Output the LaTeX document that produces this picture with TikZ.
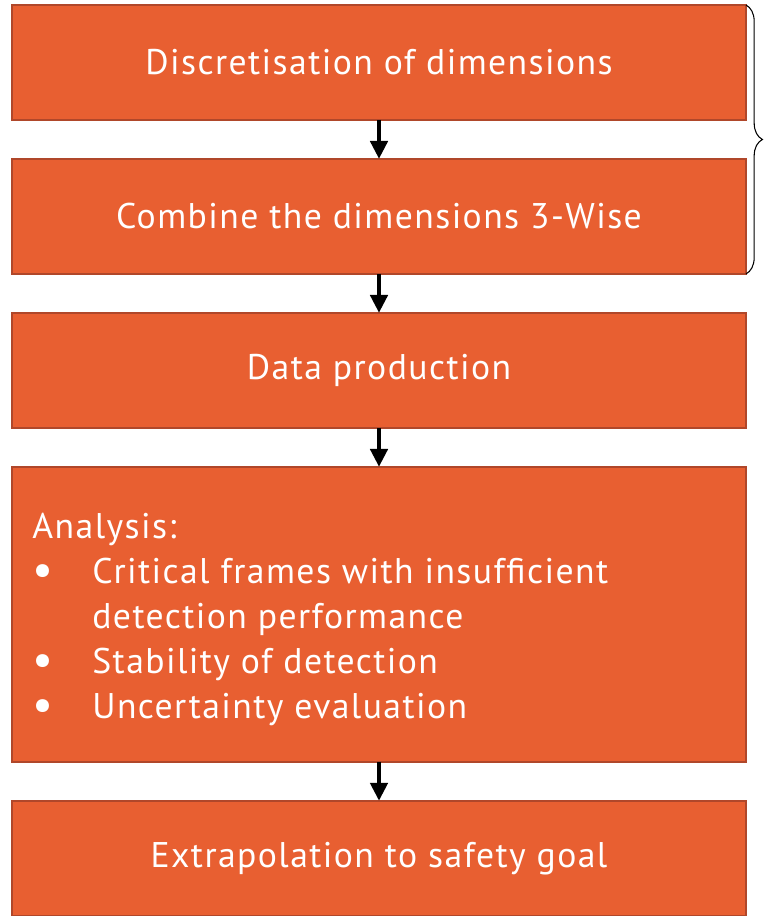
\documentclass[tikz,border=0pt]{standalone}
\usepackage{fontspec}
\setmainfont[LetterSpace=4]{PT Sans}
\usetikzlibrary{positioning,arrows.meta,decorations.pathreplacing}
\definecolor{boxfill}{HTML}{E85F31}
\definecolor{boxedge}{HTML}{B0472A}
\newcommand{\stagebullet}{\makebox[1.2cm][l]{\raisebox{-0.04cm}{\scalebox{1.3}{\textbullet}}}}
\tikzset{
  stagebox/.style={draw=boxedge, fill=boxfill, line width=1.2pt,
    minimum width=14.68cm, minimum height=2.3cm, inner sep=0pt, outer sep=0pt,
    text=white, font=\fontsize{20.3}{25.6}\selectfont},
  flowarrow/.style={line width=2.6pt, -{Triangle[length=0.36cm,width=0.34cm]}},
}
\begin{document}
\begin{tikzpicture}[x=0.02cm,y=-0.02cm]
  \useasboundingbox (0,0) rectangle (765,916);
  % stages
  \node[stagebox, anchor=north] (disc) at (379,5) {Discretisation of dimensions};
  \node[stagebox, below=0.78cm of disc] (comb) {Combine the dimensions 3-Wise};
  \node[stagebox, below=0.78cm of comb] (prod) {Data production};
  \node[stagebox, below=0.78cm of prod, minimum height=5.9cm] (anal) {};
  \node[anchor=west, inner sep=0pt, text=white, align=left,
    font=\fontsize{20.3}{25.6}\selectfont] (analtext) at ([xshift=0.4cm,yshift=-0.1cm]anal.west)
    {Analysis:\\
     \stagebullet Critical frames with insufficient\\
     \makebox[1.2cm][l]{}detection performance\\
     \stagebullet Stability of detection\\
     \stagebullet Uncertainty evaluation};
  \node[stagebox, below=0.78cm of anal] (extr) {Extrapolation to safety goal};
  % arrows
  \draw[flowarrow] (disc) -- (comb);
  \draw[flowarrow] (comb) -- (prod);
  \draw[flowarrow] (prod) -- (anal);
  \draw[flowarrow] (anal) -- (extr);
  % brace
  \draw[line width=0.6pt, decorate, decoration={brace, amplitude=0.33cm}]
    (disc.north east) -- (comb.south east);
\end{tikzpicture}
\end{document}
